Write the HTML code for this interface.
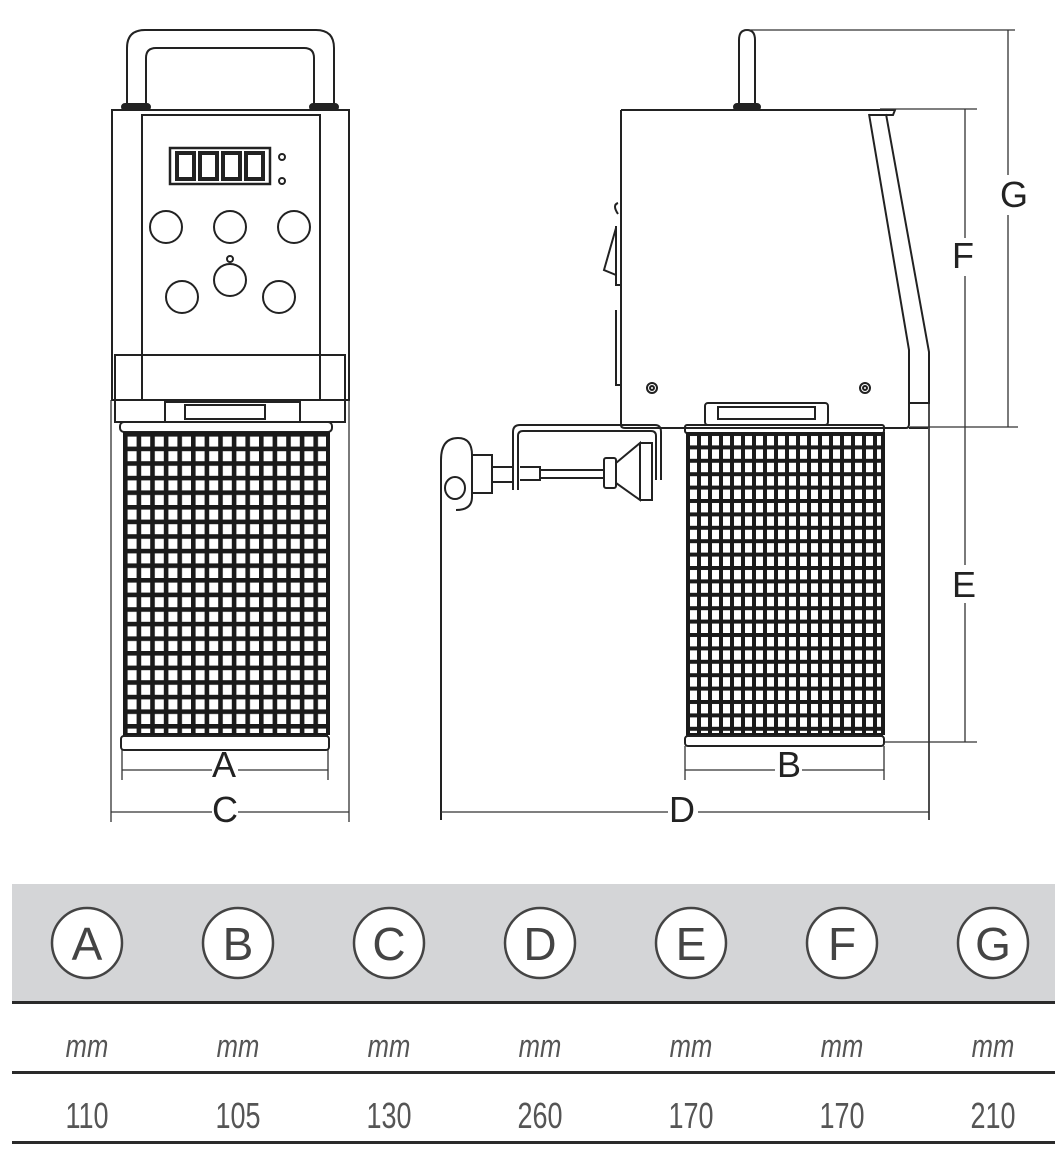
<!DOCTYPE html>
<html><head><meta charset="utf-8"><style>
html,body{margin:0;padding:0;background:#fff;}
svg{display:block}
</style></head><body>
<svg width="1063" height="1166" viewBox="0 0 1063 1166" xmlns="http://www.w3.org/2000/svg">
<defs>
<pattern id="gL" x="123" y="432" width="13.6" height="14.6" patternUnits="userSpaceOnUse">
<rect x="0" y="0" width="4.6" height="14.6" fill="#1a1a1a"/><rect x="0" y="0" width="13.6" height="4.6" fill="#1a1a1a"/>
</pattern>
<pattern id="gR" x="686" y="432" width="11" height="13.4" patternUnits="userSpaceOnUse">
<rect x="0" y="0" width="4" height="13.4" fill="#1a1a1a"/><rect x="0" y="0" width="11" height="4" fill="#1a1a1a"/>
</pattern>
</defs>
<g fill="none" stroke="#222" stroke-width="2">
<path d="M127 105 V48 Q127 30 145 30 H316 Q334 30 334 48 V105"/>
<path d="M146 105 V58 Q146 48 156 48 H304 Q314 48 314 58 V105"/>
<rect x="122" y="104" width="28" height="6" rx="3" fill="#222"/>
<rect x="310" y="104" width="28" height="6" rx="3" fill="#222"/>
<rect x="112" y="110" width="237" height="290"/>
<rect x="142" y="115" width="178" height="240"/>
<rect x="170" y="148" width="100" height="36" stroke-width="2.5"/>
<g stroke-width="4"><rect x="177" y="153" width="17" height="26"/><rect x="200" y="153" width="17" height="26"/><rect x="223" y="153" width="17" height="26"/><rect x="246" y="153" width="17" height="26"/></g>
<circle cx="282" cy="157" r="3"/><circle cx="282" cy="181" r="3"/>
<circle cx="166" cy="227" r="16"/><circle cx="230" cy="227" r="16"/><circle cx="294" cy="227" r="16"/>
<circle cx="182" cy="297" r="16"/><circle cx="230" cy="280" r="16"/><circle cx="279" cy="297" r="16"/>
<circle cx="230" cy="259" r="3"/>
<rect x="115" y="355" width="230" height="45"/>
<rect x="142" y="355" width="178" height="45"/>
<rect x="115" y="400" width="230" height="22"/>
<rect x="165" y="402" width="135" height="20"/>
<rect x="185" y="405" width="80" height="14"/>
<rect x="120" y="422" width="212" height="10" rx="4"/>
<rect x="123" y="432" width="205" height="303" fill="url(#gL)" stroke="none"/>
<path d="M328 432 V735" stroke-width="4" stroke="#1a1a1a"/>
<path d="M123 735 H328" stroke-width="4" stroke="#1a1a1a"/>
<rect x="121" y="736" width="208" height="14" rx="3"/>
<g stroke-width="1.3" stroke="#333">
<path d="M122 750 V780 M328 750 V780 M122 770 H212 M238 770 H328"/>
<path d="M111 400 V822 M349 400 V822 M111 812 H212 M238 812 H349"/>
</g>
<path d="M739 107 V40 Q739 30 747 30 Q755 30 755 40 V107"/>
<rect x="734" y="104" width="26" height="6" rx="3" fill="#222"/>
<path d="M621 110 H895 L893 115 H870 M621 110 V425 Q621 428 625 428 H906 Q909 428 909 424 V350 L869 114"/>
<path d="M886 114 L929 352 V403 H909 M909 428 H928"/>
<path d="M929 403 V820" stroke-width="1.6"/>
<path d="M618 203 Q612 205 618 214 M616 228 L604 270 L616 275 M616 226 V285 H621 M616 310 V385 H621"/>
<circle cx="652" cy="388" r="5"/><circle cx="652" cy="388" r="2"/>
<circle cx="865" cy="388" r="5"/><circle cx="865" cy="388" r="2"/>
<rect x="705" y="403" width="123" height="22" rx="3"/>
<rect x="718" y="407" width="97" height="12"/>
<rect x="685" y="425" width="199" height="8" rx="2"/>
<path d="M513 490 V432 Q513 425 520 425 H655 Q661 425 661 432 V480 M518 490 V436 Q518 431 523 431 H651 Q656 431 656 436 V480"/>
<path d="M441 820 V460 Q441 438 458 438 Q472 438 472 455 V497 Q472 510 456 510"/>
<ellipse cx="455" cy="488" rx="10" ry="11"/>
<path d="M472 455 H492 V493 H472 M492 467 H512 M492 482 H512 M520 467 H540 V480 H520 M540 470 H605 M540 478 H605"/>
<rect x="604" y="458" width="12" height="30" rx="2"/>
<path d="M616 463 L640 443 V500 L616 483 Z M640 443 H652 V500 H640"/>
<rect x="686" y="432" width="197" height="303" fill="url(#gR)" stroke="none"/>
<path d="M883 432 V735" stroke-width="4" stroke="#1a1a1a"/>
<path d="M686 735 H883" stroke-width="4" stroke="#1a1a1a"/>
<rect x="685" y="736" width="199" height="10" rx="3"/>
<g stroke-width="1.3" stroke="#333">
<path d="M685 746 V780 M884 746 V780 M685 770 H775 M802 770 H884"/>
<path d="M441 812 H668 M698 812 H929"/>
<path d="M745 30 H1015 M880 109 H977 M910 427 H1018 M885 742 H977"/>
<path d="M965 109 V238 M965 276 V565 M965 603 V742"/>
<path d="M1008 30 V175 M1008 215 V427"/>
</g>
</g>
<g font-family="Liberation Sans, sans-serif" font-size="36" fill="#222" text-anchor="middle">
<text x="224" y="777">A</text><text x="225" y="822">C</text><text x="682" y="822">D</text><text x="789" y="777">B</text>
<text x="964" y="585" dy="12">E</text><text x="963" y="268">F</text><text x="1014" y="207">G</text>
</g>
<rect x="12" y="884" width="1043" height="117" fill="#d4d5d7"/>
<g stroke="#2a2a2a" stroke-width="3"><path d="M12 1002.5 H1055 M12 1072.5 H1055 M12 1142.5 H1055"/></g>
<g fill="#fff" stroke="#444" stroke-width="2.5">
<circle cx="87" cy="943" r="35"/><circle cx="238" cy="943" r="35"/><circle cx="389" cy="943" r="35"/><circle cx="540" cy="943" r="35"/><circle cx="691" cy="943" r="35"/><circle cx="842" cy="943" r="35"/><circle cx="993" cy="943" r="35"/>
</g>
<g font-family="Liberation Sans, sans-serif" font-size="46" fill="#444" text-anchor="middle">
<text x="87" y="960">A</text><text x="238" y="960">B</text><text x="389" y="960">C</text><text x="540" y="960">D</text><text x="691" y="960">E</text><text x="842" y="960">F</text><text x="993" y="960">G</text>
</g>
<g font-family="Liberation Sans, sans-serif" font-size="32" fill="#555" text-anchor="middle" font-style="italic" transform="scale(0.8,1)">
<text x="108.75" y="1057">mm</text><text x="297.5" y="1057">mm</text><text x="486.25" y="1057">mm</text><text x="675" y="1057">mm</text><text x="863.75" y="1057">mm</text><text x="1052.5" y="1057">mm</text><text x="1241.25" y="1057">mm</text>
</g>
<g font-family="Liberation Sans, sans-serif" font-size="36" fill="#555" text-anchor="middle" transform="scale(0.75,1)">
<text x="116" y="1128">110</text><text x="317.3" y="1128">105</text><text x="518.7" y="1128">130</text><text x="720" y="1128">260</text><text x="921.3" y="1128">170</text><text x="1122.7" y="1128">170</text><text x="1324" y="1128">210</text>
</g>
</svg>
</body></html>
